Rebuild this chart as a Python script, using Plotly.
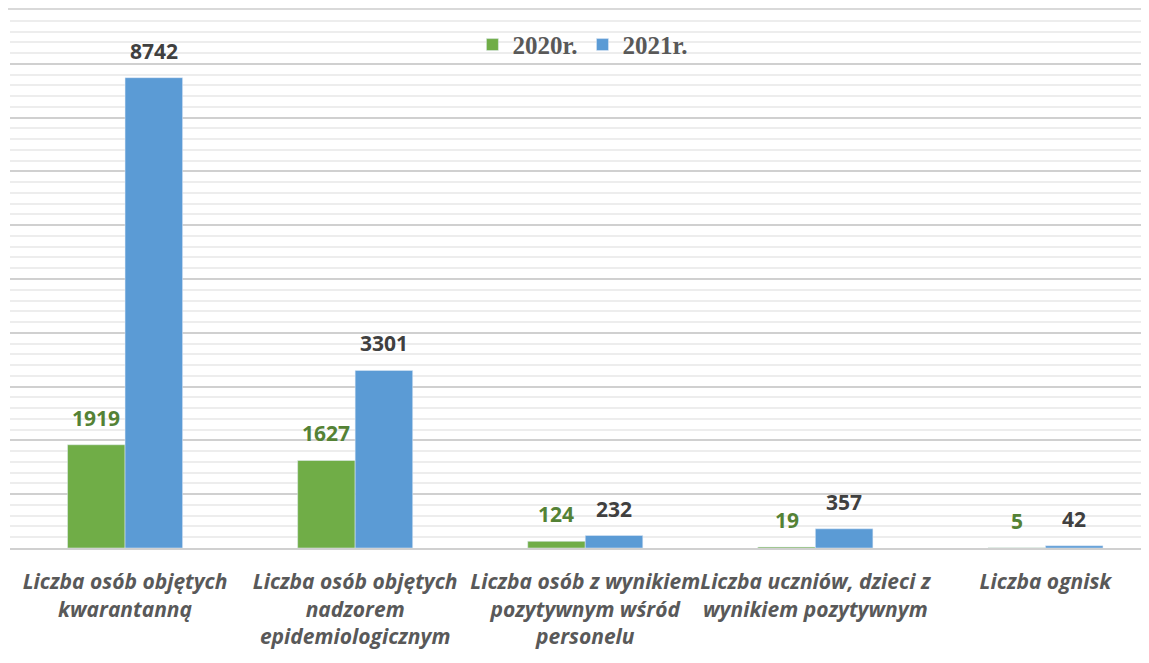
import plotly.graph_objects as go

categories = [
    "Liczba osób objętych<br>kwarantanną",
    "Liczba osób objętych<br>nadzorem<br>epidemiologicznym",
    "Liczba osób z wynikiem<br>pozytywnym wśród<br>personelu",
    "Liczba uczniów, dzieci z<br>wynikiem pozytywnym",
    "Liczba ognisk",
]
series_names = ["2020r.", "2021r."]
values_2020 = [1919, 1627, 124, 19, 5]
values_2021 = [8742, 3301, 232, 357, 42]

x_idx = list(range(len(categories)))

GREEN = "#70AD47"
BLUE = "#5B9BD5"
GREEN_TXT = "#548235"
DARK_TXT = "#404040"

fig = go.Figure()
fig.add_trace(go.Bar(x=x_idx, y=values_2020, name=series_names[0], marker_color=GREEN))
fig.add_trace(go.Bar(x=x_idx, y=values_2021, name=series_names[1], marker_color=BLUE))

# value labels
for i, (a, b) in enumerate(zip(values_2020, values_2021)):
    fig.add_annotation(x=i - 0.125, y=a, text=f"<b>{a}</b>", showarrow=False,
                       yanchor="bottom", yshift=11,
                       font=dict(family="Open Sans", size=21, color=GREEN_TXT))
    fig.add_annotation(x=i + 0.125, y=b, text=f"<b>{b}</b>", showarrow=False,
                       yanchor="bottom", yshift=11,
                       font=dict(family="Open Sans", size=21, color=DARK_TXT))

# chart border
fig.add_shape(type="rect", xref="paper", yref="paper", x0=-0.003, x1=1.2, y0=-0.5, y1=1.002,
              line=dict(color="#d9d9d9", width=2), fillcolor="rgba(0,0,0,0)", layer="below")

fig.update_layout(
    width=1141, height=647,
    margin=dict(l=2, r=0, t=2, b=107),
    paper_bgcolor="white", plot_bgcolor="white",
    barmode="group", bargap=0.5, bargroupgap=0,
    showlegend=True,
    legend=dict(orientation="h", x=0.503, xanchor="center", y=0.978, yanchor="top",
                font=dict(family="Liberation Serif", size=25, color="#595959", weight="bold"),
                bgcolor="rgba(0,0,0,0)", itemwidth=30, traceorder="normal"),
    xaxis=dict(range=[-0.5, 4.45], tickmode="array", tickvals=x_idx, ticktext=categories,
               showgrid=False, zeroline=False, showline=True, linecolor="#d0d0d0", linewidth=2,
               ticks="", ticklabelstandoff=14, tickangle=0,
               tickfont=dict(family="Open Sans", size=21, color="#595959", style="italic", weight=700)),
    yaxis=dict(range=[0, 10000], showticklabels=False, ticks="", zeroline=False,
               showgrid=True, dtick=1000, gridcolor="#d0d0d0", gridwidth=2,
               minor=dict(dtick=200, showgrid=True, gridcolor="#ededed", gridwidth=2)),
    font=dict(family="Open Sans"),
)

fig.write_html("out.html")
